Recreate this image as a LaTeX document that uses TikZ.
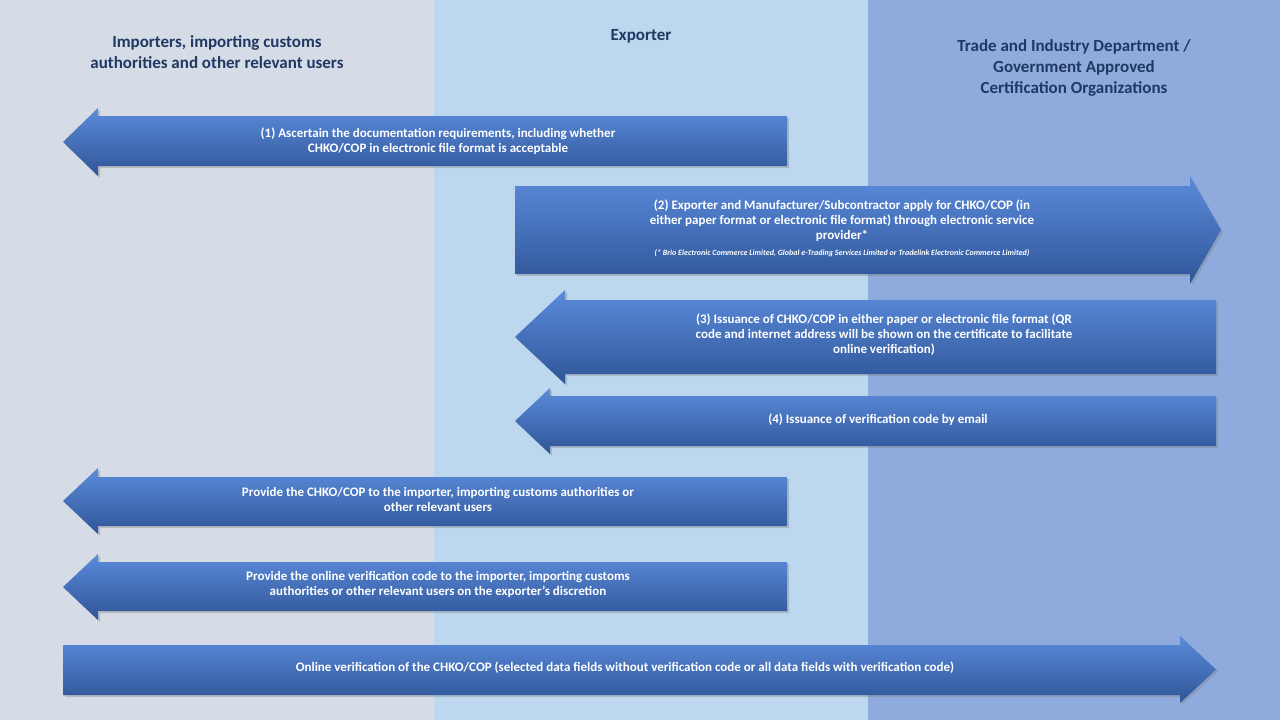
\documentclass[tikz,border=0pt]{standalone}
\usepackage{fontspec}
\setmainfont{Carlito}
\usetikzlibrary{shadows}
\definecolor{colA}{HTML}{D6DCE5}
\definecolor{colB}{HTML}{BDD7EE}
\definecolor{colC}{HTML}{8FAADC}
\definecolor{hdr}{HTML}{1F3864}
\definecolor{atop}{HTML}{5B8BDB}
\definecolor{abot}{HTML}{2F5597}
\tikzset{
  arr/.style={top color=atop,bottom color=abot,draw=none,drop shadow={shadow xshift=2pt,shadow yshift=-2pt,opacity=0.35}},
  hd/.style={text=hdr,font=\bfseries\fontsize{17}{21}\selectfont,align=center},
  atext/.style={text=white,font=\bfseries\fontsize{13}{15}\selectfont,align=center}
}
\newcommand{\ShapeArr}[7]{\path[arr] (#1pt,{-(#6+#7)/2*1pt}) -- (#2pt,-#6pt) -- (#2pt,-#4pt) -- (#3pt,-#4pt) -- (#3pt,-#5pt) -- (#2pt,-#5pt) -- (#2pt,-#7pt) -- cycle;}
\begin{document}
\begin{tikzpicture}[x=1pt,y=1pt]
\useasboundingbox (0,0) rectangle (1280,-720);
\fill[colA] (0,0) rectangle (434,-720);
\fill[colB] (434,0) rectangle (868,-720);
\fill[colC] (868,0) rectangle (1280,-720);
\node[hd] (h1) at (217,-52) {Importers, importing customs\\authorities and other relevant users};
\node[hd] (h2) at (641,-36) {Exporter};
\node[hd] (h3) at (1074,-68) {Trade and Industry Department /\\Government Approved\\Certification Organizations};
\ShapeArr{63}{98}{787}{116}{166}{108}{176}
\node[atext] (t1) at (438,-141) {(1) Ascertain the documentation requirements, including whether\\CHKO/COP in electronic file format is acceptable};
\ShapeArr{1221}{1190}{515}{186}{274}{176}{284}
\node[atext] (t2) at (842,-228) {(2) Exporter and Manufacturer/Subcontractor apply for CHKO/COP (in\\either paper format or electronic file format) through electronic service\\provider*\\[1pt]{\itshape\fontsize{8}{10}\selectfont (* Brio Electronic Commerce Limited, Global e-Trading Services Limited or Tradelink Electronic Commerce Limited)}};
\ShapeArr{515}{565}{1216}{300}{374}{290}{384}
\node[atext] (t3) at (884,-335) {(3) Issuance of CHKO/COP in either paper or electronic file format (QR\\code and internet address will be shown on the certificate to facilitate\\online verification)};
\ShapeArr{515}{550}{1216}{396}{446}{388}{454}
\node[atext] (t4) at (878,-420) {(4) Issuance of verification code by email};
\ShapeArr{63}{98}{787}{477}{526}{468}{534}
\node[atext] (t5) at (438,-499) {Provide the CHKO/COP to the importer, importing customs authorities or\\other relevant users};
\ShapeArr{63}{98}{787}{562}{611}{554}{620}
\node[atext] (t6) at (438,-584) {Provide the online verification code to the importer, importing customs\\authorities or other relevant users on the exporter’s discretion};
\ShapeArr{1216}{1180}{63}{645}{695}{636}{703}
\node[atext] (t7) at (625,-668) {Online verification of the CHKO/COP (selected data fields without verification code or all data fields with verification code)};
\end{tikzpicture}
\end{document}
